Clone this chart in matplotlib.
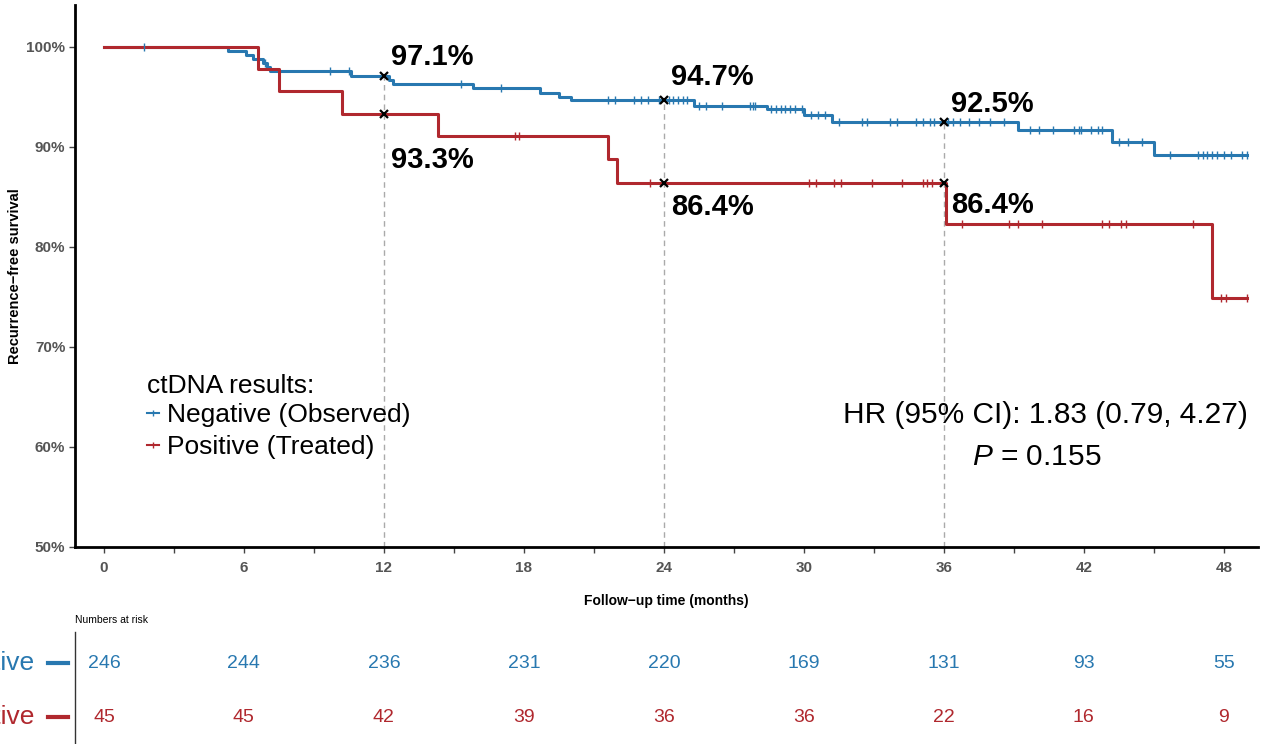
import numpy as np
import matplotlib
matplotlib.use("Agg")
import matplotlib.pyplot as plt
from matplotlib.lines import Line2D

plt.rcParams['font.family'] = ['Liberation Sans', 'DejaVu Sans']
plt.rcParams['mathtext.fontset'] = 'custom'
plt.rcParams['mathtext.it'] = 'Liberation Sans:italic'
plt.rcParams['mathtext.rm'] = 'Liberation Sans'

BLUE = '#2878b0'
RED = '#b0282e'

# Kaplan-Meier step curves (time in months, survival in %)
neg_times = [0, 5.3, 6.1, 6.4, 6.8, 7.0, 7.1, 10.6, 12.2, 12.4, 15.8, 18.7, 19.5, 20.0,
             25.3, 28.4, 30.0, 31.2, 39.2, 43.2, 45.0]
neg_surv = [100, 99.6, 99.2, 98.8, 98.4, 98.0, 97.6, 97.1, 96.7, 96.3, 95.9, 95.4, 95.0, 94.7,
            94.1, 93.8, 93.2, 92.5, 91.7, 90.5, 89.2]
neg_end = 49.0
neg_censor = [1.7, 6.9, 9.7, 10.5, 15.3, 17.0, 21.6, 21.9, 22.7, 23.0, 23.3, 23.8, 24.2, 24.4,
              24.6, 24.8, 25.0, 25.5, 25.8, 26.5, 27.7, 27.8, 27.9, 28.6, 28.8, 29.0, 29.2,
              29.4, 29.6, 29.9, 30.3, 30.6, 30.9, 31.5, 32.5, 32.7, 33.7, 34.0, 34.8, 35.1,
              35.4, 35.6, 36.2, 36.4, 36.7, 37.1, 37.5, 38.0, 38.6, 39.7, 40.1, 40.7, 41.6,
              41.8, 41.9, 42.3, 42.6, 42.8, 43.5, 43.9, 44.5, 45.7, 46.9, 47.1, 47.3, 47.5,
              47.7, 48.0, 48.3, 48.8, 49.0]

pos_times = [0, 6.6, 7.5, 10.2, 14.3, 21.6, 22.0, 36.1, 47.5]
pos_surv = [100, 97.8, 95.6, 93.3, 91.1, 88.8, 86.4, 82.3, 74.9]
pos_end = 49.0
pos_censor = [17.6, 17.8, 23.4, 30.2, 30.5, 31.3, 31.6, 32.9, 34.2, 35.1, 35.3, 35.5, 36.8,
              38.8, 39.2, 40.2, 42.8, 43.1, 43.6, 43.8, 46.7, 47.9, 48.1, 49.0]

# landmark estimates
landmarks = [12, 24, 36]
neg_landmark = [97.1, 94.7, 92.5]
pos_landmark = [93.3, 86.4, 86.4]

# numbers at risk
risk_times = [0, 6, 12, 18, 24, 30, 36, 42, 48]
neg_risk = [246, 244, 236, 231, 220, 169, 131, 93, 55]
pos_risk = [45, 45, 42, 39, 36, 36, 22, 16, 9]

fig = plt.figure(figsize=(12.61, 7.44), dpi=100)
ax = fig.add_axes([0.0595, 0.2648, 0.938, 0.7285])
ax_risk = fig.add_axes([0.0595, 0.0, 0.938, 0.1505])


def draw_km(times, surv, end, censor, color):
    t = np.append(times, end)
    s = np.append(surv, surv[-1])
    ax.step(t, s, where='post', color=color, lw=2.2, zorder=3)
    idx = np.searchsorted(times, censor, side='right') - 1
    ax.plot(censor, np.asarray(surv)[idx], ls='none', marker='|', ms=6, mew=1.0,
            color=color, zorder=4)


draw_km(neg_times, neg_surv, neg_end, neg_censor, BLUE)
draw_km(pos_times, pos_surv, pos_end, pos_censor, RED)

# dashed guides and landmark labels
neg_offsets = [1.9, 2.3, 1.8]
pos_offsets = [-4.6, -2.4, -2.2]
for i, t in enumerate(landmarks):
    ax.plot([t, t], [50, neg_landmark[i]], ls=(0, (4, 3)), color='#aaaaaa', lw=1.0, zorder=2)
    ax.plot([t, t], [neg_landmark[i], pos_landmark[i]], ls='none', marker='x',
            color='black', ms=6, mew=1.6, zorder=5)
    ax.text(t + 0.3, neg_landmark[i] + neg_offsets[i], f'{neg_landmark[i]:.1f}%',
            fontsize=21, fontweight='bold', va='center', ha='left')
    ax.text(t + 0.3, pos_landmark[i] + pos_offsets[i], f'{pos_landmark[i]:.1f}%',
            fontsize=21, fontweight='bold', va='center', ha='left')

ax.set_xlim(-1.24, 49.46)
ax.set_ylim(50, 104.2)
ax.set_xticks(risk_times)
ax.set_xticks(np.arange(3, 48, 6), minor=True)
ax.set_yticks(np.arange(50, 101, 10))
ax.set_yticklabels([f'{v}%' for v in range(50, 101, 10)])
for s in ['top', 'right']:
    ax.spines[s].set_visible(False)
for s in ['left', 'bottom']:
    ax.spines[s].set_linewidth(2.0)
ax.tick_params(axis='both', which='major', length=4, width=1, colors='#444444',
               labelsize=11, pad=3)
ax.tick_params(axis='x', which='major', pad=6)
ax.tick_params(axis='x', which='minor', length=4, width=1, color='#444444')
for lab in ax.get_xticklabels() + ax.get_yticklabels():
    lab.set_fontweight('bold')
    lab.set_color('#555555')
ax.set_ylabel('Recurrence\u2212free survival', fontsize=10.5, fontweight='bold', labelpad=3)
ax.set_xlabel('Follow\u2212up time (months)', fontsize=10, fontweight='bold', labelpad=14)

handles = [Line2D([], [], color=BLUE, marker='|', ms=5, lw=1.5),
           Line2D([], [], color=RED, marker='|', ms=5, lw=1.5)]
leg = ax.legend(handles, ['Negative (Observed)', 'Positive (Treated)'],
                title='ctDNA results:', loc='upper left', bbox_to_anchor=(0.061, 0.32),
                frameon=False, fontsize=19, title_fontsize=19, handlelength=0.45,
                handletextpad=0.3, labelspacing=0.3, borderaxespad=0, borderpad=0)
leg._legend_box.align = 'left'
leg._legend_box.sep = 4

ax.text(0.9916, 0.243, 'HR (95% CI): 1.83 (0.79, 4.27)', transform=ax.transAxes,
        fontsize=21.5, ha='right', va='center')
ax.text(0.813, 0.166, '$P$ = 0.155', transform=ax.transAxes, fontsize=21.5,
        ha='center', va='center')

# risk table
ax_risk.set_xlim(ax.get_xlim())
ax_risk.set_ylim(-0.5, 1.575)
for s in ['top', 'right', 'bottom']:
    ax_risk.spines[s].set_visible(False)
ax_risk.spines['left'].set_color('#333333')
ax_risk.spines['left'].set_linewidth(1.0)
ax_risk.set_xticks([])
ax_risk.set_yticks([])
for t, n in zip(risk_times, neg_risk):
    ax_risk.text(t, 1, str(n), color=BLUE, fontsize=14, ha='center', va='center')
for t, n in zip(risk_times, pos_risk):
    ax_risk.text(t, 0, str(n), color=RED, fontsize=14, ha='center', va='center')

ytr = ax_risk.get_yaxis_transform()
ax_risk.text(-0.034, 1, 'Negative', color=BLUE, fontsize=19, ha='right', va='center',
             transform=ytr, clip_on=False)
ax_risk.text(-0.034, 0, 'Positive', color=RED, fontsize=19, ha='right', va='center',
             transform=ytr, clip_on=False)
ax_risk.plot([-0.023, -0.006], [1, 1], color=BLUE, lw=3, transform=ytr, clip_on=False)
ax_risk.plot([-0.023, -0.006], [0, 0], color=RED, lw=3, transform=ytr, clip_on=False)
fig.text(0.0595, 1 - 620 / 744, 'Numbers at risk', fontsize=7.5, ha='left', va='center')

fig.savefig('out.png', dpi=100)
